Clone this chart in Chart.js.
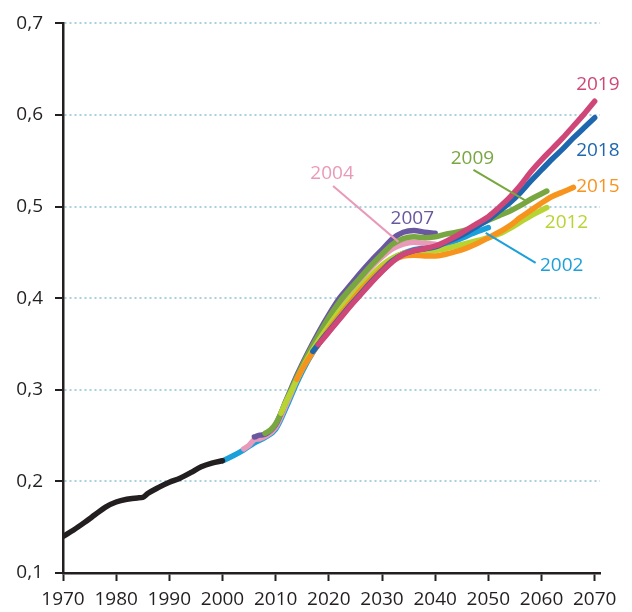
<!DOCTYPE html>
<html>
<head>
<meta charset="utf-8">
<script src="https://cdn.jsdelivr.net/npm/chart.js@4.4.0/dist/chart.umd.min.js"></script>
<style>
  html,body{margin:0;padding:0;background:#fff;}
  #wrap{width:632px;height:612px;}
</style>
</head>
<body>
<div id="wrap"><canvas id="chart" width="632" height="612"></canvas></div>
<script>
// observed history
const histYears  = [1970,1972,1974,1976,1978,1980,1982,1984,1985,1986,1988,1990,1992,1994,1996,1998,2000];
const histValues = [0.140,0.147,0.155,0.1635,0.172,0.1775,0.1805,0.182,0.1825,0.187,0.1935,0.199,0.2035,0.2095,0.216,0.220,0.2225];

// projections, one per vintage
const p2002Years = [2000,2002,2004,2006,2008,2010,2012,2014,2016,2018,2020,2022,2024,2026,2028,2030,2032,2034,2036,2038,2040,2042,2044,2046,2048,2050];
const p2002 = [0.2225,0.228,0.2345,0.242,0.248,0.257,0.281,0.308,0.331,0.350,0.367,0.383,0.398,0.411,0.423,0.434,0.443,0.449,0.453,0.455,0.457,0.459,0.463,0.468,0.473,0.477];

const p2004Years = [2004,2005,2006,2007,2008,2010,2012,2014,2016,2018,2020,2022,2024,2026,2028,2030,2032,2034,2036,2038,2040];
const p2004 = [0.2355,0.2395,0.2455,0.2465,0.249,0.259,0.284,0.311,0.335,0.356,0.375,0.392,0.407,0.421,0.434,0.445,0.454,0.459,0.461,0.460,0.459];

const p2007Years = [2006,2007,2008,2010,2012,2014,2016,2018,2020,2022,2024,2026,2028,2030,2032,2034,2036,2038,2040];
const p2007 = [0.2485,0.2505,0.2515,0.262,0.289,0.316,0.340,0.362,0.382,0.400,0.414,0.428,0.441,0.453,0.465,0.472,0.474,0.472,0.471];

const p2009Years = [2008,2009,2010,2011,2012,2014,2016,2018,2020,2022,2024,2026,2028,2030,2032,2034,2036,2038,2040,2042,2044,2046,2048,2050,2052,2054,2056,2058,2060,2061];
const p2009 = [0.2525,0.256,0.263,0.2745,0.288,0.314,0.338,0.359,0.379,0.396,0.410,0.423,0.436,0.448,0.459,0.465,0.467,0.466,0.467,0.470,0.472,0.475,0.480,0.485,0.490,0.495,0.501,0.508,0.514,0.517];

const p2012Years = [2011,2012,2013,2014,2016,2018,2020,2022,2024,2026,2028,2030,2032,2034,2036,2038,2040,2042,2044,2046,2048,2050,2052,2054,2056,2058,2060,2061];
const p2012 = [0.2745,0.2875,0.299,0.3115,0.334,0.353,0.370,0.386,0.400,0.413,0.425,0.436,0.444,0.449,0.451,0.451,0.452,0.454,0.457,0.460,0.463,0.466,0.470,0.476,0.483,0.490,0.496,0.499];

const p2015Years = [2014,2015,2016,2017,2018,2020,2022,2024,2026,2028,2030,2032,2034,2036,2038,2040,2042,2044,2046,2048,2050,2052,2054,2056,2058,2060,2062,2064,2066];
const p2015 = [0.3115,0.3225,0.332,0.341,0.349,0.366,0.381,0.395,0.409,0.421,0.432,0.441,0.446,0.447,0.446,0.446,0.448,0.451,0.455,0.460,0.466,0.472,0.479,0.488,0.496,0.504,0.511,0.516,0.521];

const p2018Years = [2017,2018,2019,2020,2022,2024,2026,2028,2030,2032,2034,2036,2038,2040,2042,2044,2046,2048,2050,2052,2054,2056,2058,2060,2062,2064,2066,2068,2070];
const p2018 = [0.342,0.3495,0.357,0.364,0.378,0.392,0.405,0.418,0.430,0.441,0.448,0.452,0.454,0.456,0.461,0.466,0.472,0.479,0.486,0.495,0.504,0.515,0.528,0.540,0.552,0.563,0.575,0.586,0.597];

const p2019Years = [2018,2019,2020,2022,2024,2026,2028,2030,2032,2034,2036,2038,2040,2042,2044,2046,2048,2050,2052,2054,2056,2058,2060,2062,2064,2066,2068,2070];
const p2019 = [0.3495,0.356,0.363,0.377,0.391,0.404,0.417,0.429,0.440,0.448,0.452,0.454,0.457,0.462,0.468,0.475,0.482,0.489,0.499,0.510,0.523,0.538,0.551,0.563,0.575,0.588,0.601,0.615];

const yTicks = [0.1,0.2,0.3,0.4,0.5,0.6,0.7];
const xTicks = [1970,1980,1990,2000,2010,2020,2030,2040,2050,2060,2070];

const inkColor = "#231f20";
const labelFont = '19px "Open Sans", sans-serif';

// label text placed in data space, optional leader line
const callouts = [
  {text:"2019", color:"#cf4778", at:[2070.6,0.633]},
  {text:"2018", color:"#1e67ae", at:[2070.6,0.561]},
  {text:"2015", color:"#f7941e", at:[2070.6,0.5215]},
  {text:"2012", color:"#b8d433", at:[2064.7,0.483]},
  {text:"2002", color:"#1ba0da", at:[2063.8,0.436], from:[2049.5,0.4712], to:[2058.9,0.4385]},
  {text:"2009", color:"#78a640", at:[2047.0,0.552], from:[2047.2,0.540], to:[2057.4,0.5051]},
  {text:"2007", color:"#69589f", at:[2035.7,0.4866]},
  {text:"2004", color:"#e99ab8", at:[2020.6,0.5357], from:[2020.8,0.5226], to:[2033.1,0.4615]}
];

function pts(xs, ys){ return xs.map((x,i)=>({x:x, y:ys[i]})) }

function series(label, xs, ys, color, order){
  return {
    label: label,
    data: pts(xs, ys),
    borderColor: color,
    backgroundColor: color,
    borderWidth: 5.5,
    borderCapStyle: "round",
    borderJoinStyle: "round",
    pointRadius: 0,
    cubicInterpolationMode: "monotone",
    fill: false,
    order: order
  }
}

const calloutPlugin = {
  id: "callouts",
  afterDatasetsDraw(chart){
    const ctx = chart.ctx
    const sx = chart.scales.x, sy = chart.scales.y
    ctx.save()
    callouts.forEach(c=>{
      if (c.from){
        ctx.strokeStyle = c.color
        ctx.lineWidth = 2
        ctx.beginPath()
        ctx.moveTo(sx.getPixelForValue(c.from[0]), sy.getPixelForValue(c.from[1]))
        ctx.lineTo(sx.getPixelForValue(c.to[0]), sy.getPixelForValue(c.to[1]))
        ctx.stroke()
      }
      ctx.fillStyle = c.color
      ctx.font = labelFont
      ctx.textAlign = "center"
      ctx.textBaseline = "middle"
      ctx.fillText(c.text, sx.getPixelForValue(c.at[0]), sy.getPixelForValue(c.at[1]))
    })
    ctx.restore()
  }
}

new Chart(document.getElementById("chart"), {
  type: "line",
  data: {
    datasets: [
      series("history", histYears, histValues, inkColor, 0),
      series("2002", p2002Years, p2002, "#1ba0da", 98),
      series("2004", p2004Years, p2004, "#e99ab8", 96),
      series("2007", p2007Years, p2007, "#69589f", 93),
      series("2009", p2009Years, p2009, "#78a640", 91),
      series("2012", p2012Years, p2012, "#b8d433", 88),
      series("2015", p2015Years, p2015, "#f7941e", 85),
      series("2018", p2018Years, p2018, "#1e67ae", 82),
      series("2019", p2019Years, p2019, "#cf4778", 81)
    ]
  },
  options: {
    responsive: false,
    animation: false,
    devicePixelRatio: 1,
    layout: { padding: { top: 23, right: 32, left: 0, bottom: 0 } },
    plugins: { legend: { display: false }, tooltip: { enabled: false } },
    scales: {
      x: {
        type: "linear",
        min: 1970,
        max: 2071,
        afterBuildTicks: (s)=>{ s.ticks = xTicks.map(v=>({value:v})) },
        afterFit: (s)=>{ s.height = 39 },
        ticks: { color: inkColor, font: { family: "Open Sans", size: 19 }, padding: 7, maxRotation: 0, autoSkip: false, callback: (v)=>String(v) },
        grid: { drawOnChartArea: false, drawTicks: true, tickLength: 8, tickColor: inkColor, tickWidth: 2 },
        border: { display: true, color: inkColor, width: 2.5 }
      },
      y: {
        min: 0.1,
        max: 0.7,
        afterBuildTicks: (s)=>{ s.ticks = yTicks.map(v=>({value:v})) },
        afterFit: (s)=>{ s.width = 63 },
        ticks: { color: inkColor, font: { family: "Open Sans", size: 19 }, padding: 12, callback: (v)=>v.toFixed(1).replace(".", ",") },
        grid: { color: "#a9d0dd", lineWidth: 2, drawTicks: true, tickLength: 8, tickColor: inkColor, tickWidth: 2 },
        border: { display: true, color: inkColor, width: 2.5, dash: [2,3] }
      }
    }
  },
  plugins: [calloutPlugin]
});
</script>
</body>
</html>
